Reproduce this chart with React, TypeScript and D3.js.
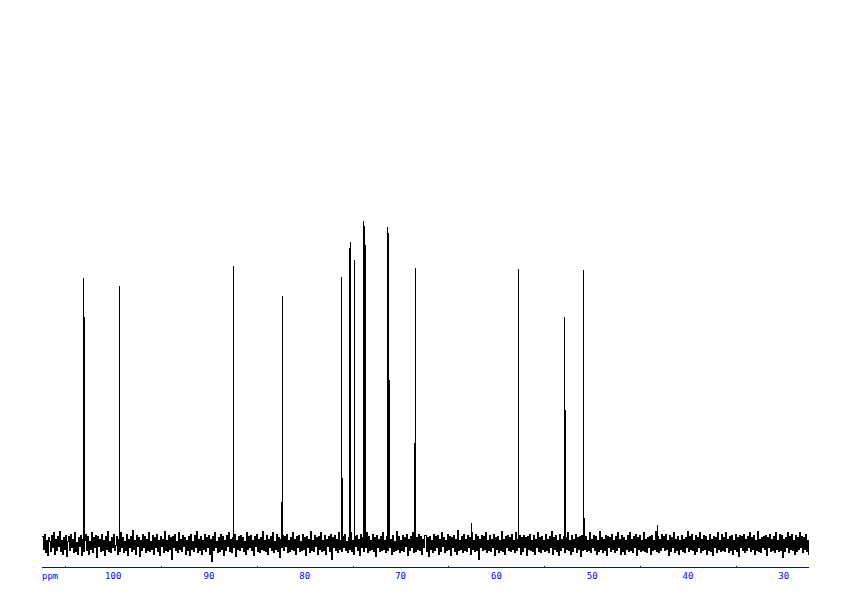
import React from "react";
import * as d3 from "d3";

// Peak positions (ppm) and heights (arbitrary intensity units)
const peakPpm = [103.13, 103.03, 99.37, 87.47, 82.36, 82.44, 76.2, 76.1, 75.36, 75.26, 74.84, 73.9, 73.8, 73.7, 71.4, 71.3, 71.19, 68.58, 68.48, 62.63, 57.72, 52.92, 52.82, 50.94, 50.84, 43.28];
const peakHeight = [266, 227, 258, 278, 248, 42, 267, 66, 296, 302, 284, 323, 318, 299, 317, 311, 164, 101, 276, 21, 275, 227, 134, 274, 26, 19];

// Baseline noise samples (noise units), from 107.4 ppm to 27.4 ppm
const noiseStart = 107.4;
const noiseEnd = 27.4;
const noise = [
  6,-4,8,-7,3,-9,5,2,-6,7,-3,9,-8,4,-5,6,-2,10,-6,3,
  -8,5,-4,7,-10,2,6,-5,8,-3,4,-7,9,-6,1,-8,5,-2,7,-9,
  4,-6,3,8,-5,6,-8,2,-4,9,-7,5,-3,7,-11,6,-2,4,-6,8,
  -5,3,-9,6,-4,10,-6,2,-7,5,-3,8,-5,-1,6,-8,4,-6,9,-3,
  5,-7,2,-5,8,-9,4,-3,6,-6,11,-4,3,-8,7,-2,5,-10,3,-5,
  8,-3,6,-7,4,-5,9,-6,2,-4,7,-8,5,-3,8,-6,3,-9,6,-2,
  4,-7,10,-5,3,-6,7,-4,5,-12,6,-3,8,-5,2,-7,9,-4,4,-6,
  7,-2,5,-8,3,-5,6,-9,8,-4,2,-6,7,-3,10,-7,4,-5,6,-8,
  3,-4,8,-6,5,-3,7,-8,4,-14,6,-5,9,-3,2,-7,5,-6,8,-4,
  6,-9,3,-5,7,-2,9,-6,4,-7,5,-3,8,-10,3,-4,6,-5,7,-3,
  5,-6,2,-8,9,-4,6,-3,7,-5,3,-9,6,-2,8,-6,4,-7,5,-4,
  10,-5,3,-6,7,-8,4,-3,6,-5,9,-7,2,-4,8,-6,5,-11,4,-3,
  7,-5,6,-2,8,-7,3,-6,5,-4,9,-5,4,-8,6,-3,7,-6,2,-5,
  8,-4,5,-9,6,-3,4,-7,10,-5,3,-6,7,-2,5,-8,6,-4,9,-6,
  3,-5,7,-8,4,-2,6,-6,8,-12,5,-3,7,-5,4,-7,9,-4,3,-6,
  6,-3,8,-5,2,-7,5,-4,9,-6,3,-8,6,-2,7,-5,4,-9,8,-3,
  5,-6,4,-3,9,-7,6,-5,3,-4,8,-6,5,-10,7,-3,4,-6,6,-5,
  9,-4,3,-7,6,-5,8,-3,4,-8,7,-6,2,-5,10,-4,6,-7,3,-5,
  7,-6,5,-2,8,-9,4,-5,6,-3,9,-7,3,-6,5,-4,8,-5,6,-8,
  4,-3,7,-6,5,-10,6,-4,3,-7,8,-5,6,-3,7,-8,4,-6,9,-2,
  5,-7,3,-5,8,-4,6,-9,5,-3,7,-6,4,-8,11,-5,3,-4,6,-7,
  8,-5,4,-6,7,-3,5,-8,9,-4,3,-6,8,-5,6,-12,4,-3,7,-5,
  6,-4,9,-7,3,-5,7,-6,4,-3,8,-9,5,-4,6,-7,3,-5,10,-6,
  4,-8,6,-3,7,-5,5,-6,8,-4,3,-7,9,-5,4,-3,7,-8,5,-6,
  7,-3,5,-9,6,-4,8,-5,3,-6,7,-8,4,-3,9,-6,5,-7,6,-4,
  3,-6,8,-5,4,-7,6,-3,10,-8,5,-4,7,-6,3,-9,8,-5,4,-3,
  6,-7,5,-4,9,-5,3,-8,7,-6,4,-3,8,-7,5,-4,6,-10,7,-5,
  8,-4,6,-6,3,-5,9,-7,4,-3,7,-5,6,-8,3,-6,10,-4,5,-7,
  4,-5,7,-9,6,-3,5,-6,8,-4,3,-7,6,-5,9,-3,4,-8,7,-6,
  5,-8,3,-4,7,-6,9,-5,4,-7,6,-3,8,-9,5,-4,7,-6,3,-5,
  9,-6,4,-7,5,-3,6,-8,7,-5,3,-4,10,-6,6,-7,4,-5,8,-3,
  6,-5,8,-4,3,-9,7,-6,5,-3,9,-7,4,-5,6,-8,3,-4,7,-6,
  4,-7,5,-3,10,-6,6,-4,8,-5,3,-8,7,-6,5,-3,9,-7,4,-5,
  7,-4,6,-8,3,-5,8,-6,4,-9,6,-3,5,-7,9,-4,3,-6,8,-5,
  5,-6,9,-3,4,-7,6,-5,7,-8,3,-4,8,-6,5,-10,7,-3,6,-5,
  8,-7,4,-5,6,-3,9,-6,5,-4,7,-8,3,-5,10,-6,4,-7,5,-3,
  6,-4,7,-9,5,-3,8,-6,4,-5,6,-7,9,-4,3,-6,8,-5,7,-11,
  4,-6,5,-3,9,-7,6,-4,8,-5,3,-8,7,-6,5,-4,9,-3,6,-7,
  5,-4,8,-6,3,-9
];

const majorTicks = [100, 90, 80, 70, 60, 50, 40, 30];
const minorTicks = [105, 95, 85, 75, 65, 55, 45, 35];

export default function App() {
  const W = 842, H = 596;
  const x = d3.scaleLinear().domain([noiseStart, noiseEnd]).range([42.3, 808.7]);
  const y = d3.scaleLinear().domain([0, 323]).range([544, 221]);
  const yNoise = d3.scaleLinear().domain([-10, 10]).range([556.5, 531.5]);
  const step = (noiseStart - noiseEnd) / (noise.length - 1);
  const pts: [number, number][] = noise.map((v, i) => [noiseStart - i * step, v]);
  const line = d3.line<[number, number]>()
    .x(d => x(d[0]))
    .y(d => yNoise(d[1]))
    .curve(d3.curveStepAfter);
  const px = (v: number) => Math.round(v) + 0.5;
  const axisY = 567.5;
  const blue = "#0000ff";
  return (
    <svg width={W} height={H} style={{ position: "absolute", left: 0, top: 0, background: "#fff" }}>
      <path d={line(pts) || ""} fill="none" stroke="#000" strokeWidth={1} shapeRendering="crispEdges" />
      {peakPpm.map((p, i) => (
        <line key={i} x1={px(x(p))} x2={px(x(p))} y1={y(0)} y2={y(peakHeight[i])}
          stroke="#000" strokeWidth={1} shapeRendering="crispEdges" />
      ))}
      <line x1={x(noiseStart)} x2={x(noiseEnd)} y1={axisY} y2={axisY} stroke={blue} strokeWidth={1} shapeRendering="crispEdges" />
      {minorTicks.map(t => (
        <line key={t} x1={px(x(t))} x2={px(x(t))} y1={axisY} y2={axisY - 2} stroke={blue} strokeWidth={1} shapeRendering="crispEdges" />
      ))}
      {majorTicks.map(t => (
        <text key={t} x={x(t)} y={579} fill={blue} fontSize={9} fontFamily="DejaVu Sans Mono" textAnchor="middle">{t}</text>
      ))}
      <text x={42} y={579} fill={blue} fontSize={9} fontFamily="DejaVu Sans Mono">ppm</text>
    </svg>
  );
}
